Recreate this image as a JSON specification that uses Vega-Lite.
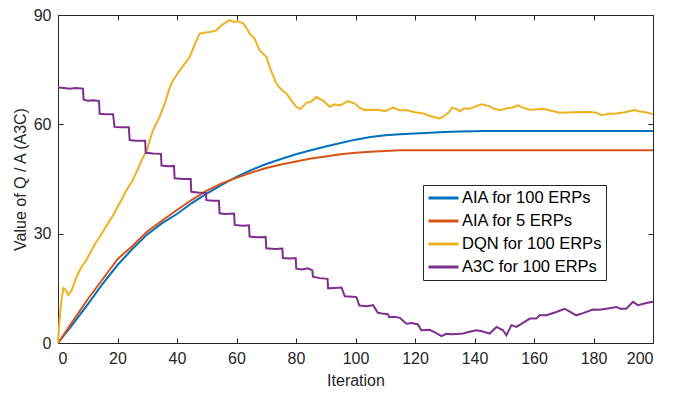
{
  "$schema": "https://vega.github.io/schema/vega-lite/v6.json",
  "width": 595,
  "height": 328,
  "autosize": {"type": "none"},
  "padding": {"left": 58, "top": 15, "right": 25, "bottom": 50},
  "background": "white",
  "config": {
    "font": "Liberation Sans",
    "view": {"stroke": null},
    "axis": {
      "grid": false,
      "domainColor": "#262626",
      "tickColor": "#262626",
      "labelColor": "#262626",
      "titleColor": "#262626",
      "labelFontSize": 16,
      "titleFontSize": 16,
      "titleFontWeight": "normal",
      "tickSize": -5,
      "labelPadding": 12
    }
  },
  "datasets": {
    "d": [
      {"s": "AIA for 100 ERPs", "x": 0, "y": 0},
      {"s": "AIA for 100 ERPs", "x": 5, "y": 5.2},
      {"s": "AIA for 100 ERPs", "x": 10, "y": 10.6},
      {"s": "AIA for 100 ERPs", "x": 15, "y": 16.2},
      {"s": "AIA for 100 ERPs", "x": 20, "y": 21.4},
      {"s": "AIA for 100 ERPs", "x": 25, "y": 25.8},
      {"s": "AIA for 100 ERPs", "x": 30, "y": 29.8},
      {"s": "AIA for 100 ERPs", "x": 35, "y": 32.9},
      {"s": "AIA for 100 ERPs", "x": 40, "y": 35.4},
      {"s": "AIA for 100 ERPs", "x": 45, "y": 38.4},
      {"s": "AIA for 100 ERPs", "x": 50, "y": 41},
      {"s": "AIA for 100 ERPs", "x": 55, "y": 43.4},
      {"s": "AIA for 100 ERPs", "x": 60, "y": 45.6},
      {"s": "AIA for 100 ERPs", "x": 65, "y": 47.5},
      {"s": "AIA for 100 ERPs", "x": 70, "y": 49.1},
      {"s": "AIA for 100 ERPs", "x": 75, "y": 50.5},
      {"s": "AIA for 100 ERPs", "x": 80, "y": 51.8},
      {"s": "AIA for 100 ERPs", "x": 85, "y": 52.9},
      {"s": "AIA for 100 ERPs", "x": 90, "y": 53.9},
      {"s": "AIA for 100 ERPs", "x": 95, "y": 54.9},
      {"s": "AIA for 100 ERPs", "x": 100, "y": 55.8},
      {"s": "AIA for 100 ERPs", "x": 105, "y": 56.5},
      {"s": "AIA for 100 ERPs", "x": 110, "y": 57},
      {"s": "AIA for 100 ERPs", "x": 115, "y": 57.3},
      {"s": "AIA for 100 ERPs", "x": 120, "y": 57.5},
      {"s": "AIA for 100 ERPs", "x": 125, "y": 57.7},
      {"s": "AIA for 100 ERPs", "x": 130, "y": 57.9},
      {"s": "AIA for 100 ERPs", "x": 135, "y": 58},
      {"s": "AIA for 100 ERPs", "x": 140, "y": 58.1},
      {"s": "AIA for 100 ERPs", "x": 143, "y": 58.2},
      {"s": "AIA for 100 ERPs", "x": 200, "y": 58.2},
      {"s": "AIA for 5 ERPs", "x": 0, "y": 0},
      {"s": "AIA for 5 ERPs", "x": 5, "y": 6},
      {"s": "AIA for 5 ERPs", "x": 10, "y": 12},
      {"s": "AIA for 5 ERPs", "x": 15, "y": 17.5},
      {"s": "AIA for 5 ERPs", "x": 20, "y": 23},
      {"s": "AIA for 5 ERPs", "x": 25, "y": 26.6},
      {"s": "AIA for 5 ERPs", "x": 30, "y": 30.6},
      {"s": "AIA for 5 ERPs", "x": 35, "y": 33.6},
      {"s": "AIA for 5 ERPs", "x": 40, "y": 36.5},
      {"s": "AIA for 5 ERPs", "x": 45, "y": 39.3},
      {"s": "AIA for 5 ERPs", "x": 50, "y": 41.8},
      {"s": "AIA for 5 ERPs", "x": 55, "y": 43.8},
      {"s": "AIA for 5 ERPs", "x": 60, "y": 45.3},
      {"s": "AIA for 5 ERPs", "x": 65, "y": 46.8},
      {"s": "AIA for 5 ERPs", "x": 70, "y": 48},
      {"s": "AIA for 5 ERPs", "x": 75, "y": 49},
      {"s": "AIA for 5 ERPs", "x": 80, "y": 49.8},
      {"s": "AIA for 5 ERPs", "x": 85, "y": 50.6},
      {"s": "AIA for 5 ERPs", "x": 90, "y": 51.2},
      {"s": "AIA for 5 ERPs", "x": 95, "y": 51.8},
      {"s": "AIA for 5 ERPs", "x": 100, "y": 52.2},
      {"s": "AIA for 5 ERPs", "x": 105, "y": 52.5},
      {"s": "AIA for 5 ERPs", "x": 110, "y": 52.7},
      {"s": "AIA for 5 ERPs", "x": 115, "y": 52.9},
      {"s": "AIA for 5 ERPs", "x": 200, "y": 52.9},
      {"s": "DQN for 100 ERPs", "x": 0, "y": 0},
      {"s": "DQN for 100 ERPs", "x": 0.3, "y": 4},
      {"s": "DQN for 100 ERPs", "x": 0.7, "y": 8},
      {"s": "DQN for 100 ERPs", "x": 1.2, "y": 12},
      {"s": "DQN for 100 ERPs", "x": 1.8, "y": 15},
      {"s": "DQN for 100 ERPs", "x": 2.5, "y": 14.6},
      {"s": "DQN for 100 ERPs", "x": 3.4, "y": 13.2},
      {"s": "DQN for 100 ERPs", "x": 4.5, "y": 14.3},
      {"s": "DQN for 100 ERPs", "x": 5.5, "y": 16.5},
      {"s": "DQN for 100 ERPs", "x": 6.7, "y": 19},
      {"s": "DQN for 100 ERPs", "x": 8, "y": 21},
      {"s": "DQN for 100 ERPs", "x": 9.5, "y": 22.7},
      {"s": "DQN for 100 ERPs", "x": 11, "y": 25},
      {"s": "DQN for 100 ERPs", "x": 12.5, "y": 27.3},
      {"s": "DQN for 100 ERPs", "x": 14, "y": 29.1},
      {"s": "DQN for 100 ERPs", "x": 16, "y": 31.8},
      {"s": "DQN for 100 ERPs", "x": 18.5, "y": 35},
      {"s": "DQN for 100 ERPs", "x": 20, "y": 37.3},
      {"s": "DQN for 100 ERPs", "x": 21.5, "y": 39.5},
      {"s": "DQN for 100 ERPs", "x": 23, "y": 41.9},
      {"s": "DQN for 100 ERPs", "x": 25, "y": 44.5},
      {"s": "DQN for 100 ERPs", "x": 27, "y": 48},
      {"s": "DQN for 100 ERPs", "x": 28.6, "y": 51},
      {"s": "DQN for 100 ERPs", "x": 30, "y": 53},
      {"s": "DQN for 100 ERPs", "x": 30.8, "y": 55.6},
      {"s": "DQN for 100 ERPs", "x": 32, "y": 58.5},
      {"s": "DQN for 100 ERPs", "x": 34.2, "y": 62.1},
      {"s": "DQN for 100 ERPs", "x": 36, "y": 66},
      {"s": "DQN for 100 ERPs", "x": 37.5, "y": 70},
      {"s": "DQN for 100 ERPs", "x": 38.7, "y": 72.1},
      {"s": "DQN for 100 ERPs", "x": 40.9, "y": 74.8},
      {"s": "DQN for 100 ERPs", "x": 42.5, "y": 76.5},
      {"s": "DQN for 100 ERPs", "x": 44.3, "y": 78.5},
      {"s": "DQN for 100 ERPs", "x": 46, "y": 82},
      {"s": "DQN for 100 ERPs", "x": 47.6, "y": 84.9},
      {"s": "DQN for 100 ERPs", "x": 49, "y": 85.1},
      {"s": "DQN for 100 ERPs", "x": 50.4, "y": 85.3},
      {"s": "DQN for 100 ERPs", "x": 52, "y": 85.5},
      {"s": "DQN for 100 ERPs", "x": 53.2, "y": 85.8},
      {"s": "DQN for 100 ERPs", "x": 55, "y": 87.2},
      {"s": "DQN for 100 ERPs", "x": 56.5, "y": 88},
      {"s": "DQN for 100 ERPs", "x": 57.7, "y": 88.6},
      {"s": "DQN for 100 ERPs", "x": 59, "y": 88.1},
      {"s": "DQN for 100 ERPs", "x": 60.5, "y": 88.3},
      {"s": "DQN for 100 ERPs", "x": 62.2, "y": 87.7},
      {"s": "DQN for 100 ERPs", "x": 63.5, "y": 86.3},
      {"s": "DQN for 100 ERPs", "x": 64.4, "y": 84.9},
      {"s": "DQN for 100 ERPs", "x": 66, "y": 83.6},
      {"s": "DQN for 100 ERPs", "x": 67.8, "y": 80.3},
      {"s": "DQN for 100 ERPs", "x": 70, "y": 78.5},
      {"s": "DQN for 100 ERPs", "x": 71.5, "y": 75},
      {"s": "DQN for 100 ERPs", "x": 73.4, "y": 71.2},
      {"s": "DQN for 100 ERPs", "x": 75, "y": 69.6},
      {"s": "DQN for 100 ERPs", "x": 76.8, "y": 68.4},
      {"s": "DQN for 100 ERPs", "x": 78.5, "y": 66.5},
      {"s": "DQN for 100 ERPs", "x": 80.1, "y": 64.8},
      {"s": "DQN for 100 ERPs", "x": 81.5, "y": 64.2},
      {"s": "DQN for 100 ERPs", "x": 83.5, "y": 65.9},
      {"s": "DQN for 100 ERPs", "x": 85, "y": 66.2},
      {"s": "DQN for 100 ERPs", "x": 86.8, "y": 67.5},
      {"s": "DQN for 100 ERPs", "x": 89, "y": 66.6},
      {"s": "DQN for 100 ERPs", "x": 91.3, "y": 64.8},
      {"s": "DQN for 100 ERPs", "x": 93, "y": 65.5},
      {"s": "DQN for 100 ERPs", "x": 94.7, "y": 65.2},
      {"s": "DQN for 100 ERPs", "x": 96, "y": 65.7},
      {"s": "DQN for 100 ERPs", "x": 97.5, "y": 66.4},
      {"s": "DQN for 100 ERPs", "x": 99.7, "y": 65.7},
      {"s": "DQN for 100 ERPs", "x": 101.5, "y": 64.5},
      {"s": "DQN for 100 ERPs", "x": 103.1, "y": 63.9},
      {"s": "DQN for 100 ERPs", "x": 105.5, "y": 64},
      {"s": "DQN for 100 ERPs", "x": 108.1, "y": 63.9},
      {"s": "DQN for 100 ERPs", "x": 110, "y": 63.6},
      {"s": "DQN for 100 ERPs", "x": 112.6, "y": 64.6},
      {"s": "DQN for 100 ERPs", "x": 115, "y": 63.8},
      {"s": "DQN for 100 ERPs", "x": 117.1, "y": 63.9},
      {"s": "DQN for 100 ERPs", "x": 120, "y": 63.3},
      {"s": "DQN for 100 ERPs", "x": 122.7, "y": 63},
      {"s": "DQN for 100 ERPs", "x": 125, "y": 62.3},
      {"s": "DQN for 100 ERPs", "x": 128.3, "y": 61.6},
      {"s": "DQN for 100 ERPs", "x": 130, "y": 62.4},
      {"s": "DQN for 100 ERPs", "x": 131.5, "y": 63.4},
      {"s": "DQN for 100 ERPs", "x": 132.5, "y": 64.6},
      {"s": "DQN for 100 ERPs", "x": 134, "y": 64.2},
      {"s": "DQN for 100 ERPs", "x": 135, "y": 63.6},
      {"s": "DQN for 100 ERPs", "x": 136.5, "y": 64.4},
      {"s": "DQN for 100 ERPs", "x": 138.4, "y": 64.3},
      {"s": "DQN for 100 ERPs", "x": 140, "y": 64.8},
      {"s": "DQN for 100 ERPs", "x": 142.3, "y": 65.5},
      {"s": "DQN for 100 ERPs", "x": 145, "y": 65},
      {"s": "DQN for 100 ERPs", "x": 146.5, "y": 64.3},
      {"s": "DQN for 100 ERPs", "x": 148.5, "y": 63.9},
      {"s": "DQN for 100 ERPs", "x": 151, "y": 64.4},
      {"s": "DQN for 100 ERPs", "x": 153, "y": 64.7},
      {"s": "DQN for 100 ERPs", "x": 154.6, "y": 65.2},
      {"s": "DQN for 100 ERPs", "x": 156.5, "y": 64.5},
      {"s": "DQN for 100 ERPs", "x": 158.6, "y": 64},
      {"s": "DQN for 100 ERPs", "x": 160.5, "y": 64.1},
      {"s": "DQN for 100 ERPs", "x": 163, "y": 64.3},
      {"s": "DQN for 100 ERPs", "x": 165.5, "y": 63.8},
      {"s": "DQN for 100 ERPs", "x": 168.6, "y": 63.2},
      {"s": "DQN for 100 ERPs", "x": 173, "y": 63.3},
      {"s": "DQN for 100 ERPs", "x": 178.7, "y": 63.4},
      {"s": "DQN for 100 ERPs", "x": 181, "y": 63.2},
      {"s": "DQN for 100 ERPs", "x": 182.7, "y": 62.5},
      {"s": "DQN for 100 ERPs", "x": 185, "y": 62.9},
      {"s": "DQN for 100 ERPs", "x": 187.7, "y": 63},
      {"s": "DQN for 100 ERPs", "x": 190.5, "y": 63.3},
      {"s": "DQN for 100 ERPs", "x": 193.8, "y": 63.9},
      {"s": "DQN for 100 ERPs", "x": 195.5, "y": 63.5},
      {"s": "DQN for 100 ERPs", "x": 197.2, "y": 63.4},
      {"s": "DQN for 100 ERPs", "x": 200, "y": 62.8},
      {"s": "A3C for 100 ERPs", "x": 0, "y": 70.1},
      {"s": "A3C for 100 ERPs", "x": 2, "y": 70},
      {"s": "A3C for 100 ERPs", "x": 4, "y": 69.8},
      {"s": "A3C for 100 ERPs", "x": 6, "y": 70},
      {"s": "A3C for 100 ERPs", "x": 8.4, "y": 69.8},
      {"s": "A3C for 100 ERPs", "x": 8.6, "y": 66.8},
      {"s": "A3C for 100 ERPs", "x": 10, "y": 66.5},
      {"s": "A3C for 100 ERPs", "x": 12, "y": 66.6},
      {"s": "A3C for 100 ERPs", "x": 13.8, "y": 66.4},
      {"s": "A3C for 100 ERPs", "x": 14, "y": 62.9},
      {"s": "A3C for 100 ERPs", "x": 16, "y": 62.8},
      {"s": "A3C for 100 ERPs", "x": 18.5, "y": 62.8},
      {"s": "A3C for 100 ERPs", "x": 19, "y": 59.3},
      {"s": "A3C for 100 ERPs", "x": 21, "y": 59.2},
      {"s": "A3C for 100 ERPs", "x": 23.8, "y": 59.2},
      {"s": "A3C for 100 ERPs", "x": 24.1, "y": 55.7},
      {"s": "A3C for 100 ERPs", "x": 26, "y": 55.5},
      {"s": "A3C for 100 ERPs", "x": 29.3, "y": 55.5},
      {"s": "A3C for 100 ERPs", "x": 29.5, "y": 52.2},
      {"s": "A3C for 100 ERPs", "x": 32, "y": 52},
      {"s": "A3C for 100 ERPs", "x": 34.6, "y": 51.9},
      {"s": "A3C for 100 ERPs", "x": 34.8, "y": 48.7},
      {"s": "A3C for 100 ERPs", "x": 37, "y": 48.5},
      {"s": "A3C for 100 ERPs", "x": 39, "y": 48.6},
      {"s": "A3C for 100 ERPs", "x": 39.2, "y": 45.2},
      {"s": "A3C for 100 ERPs", "x": 42, "y": 45},
      {"s": "A3C for 100 ERPs", "x": 44.6, "y": 45},
      {"s": "A3C for 100 ERPs", "x": 44.8, "y": 41.5},
      {"s": "A3C for 100 ERPs", "x": 47, "y": 41.3},
      {"s": "A3C for 100 ERPs", "x": 49.7, "y": 41.2},
      {"s": "A3C for 100 ERPs", "x": 49.9, "y": 39.2},
      {"s": "A3C for 100 ERPs", "x": 52, "y": 39},
      {"s": "A3C for 100 ERPs", "x": 54.1, "y": 39},
      {"s": "A3C for 100 ERPs", "x": 54.3, "y": 35.6},
      {"s": "A3C for 100 ERPs", "x": 56, "y": 35.4},
      {"s": "A3C for 100 ERPs", "x": 59.2, "y": 35.5},
      {"s": "A3C for 100 ERPs", "x": 59.4, "y": 32.4},
      {"s": "A3C for 100 ERPs", "x": 62, "y": 32.2},
      {"s": "A3C for 100 ERPs", "x": 64.2, "y": 32.3},
      {"s": "A3C for 100 ERPs", "x": 64.4, "y": 29.2},
      {"s": "A3C for 100 ERPs", "x": 67, "y": 29},
      {"s": "A3C for 100 ERPs", "x": 69.8, "y": 29.1},
      {"s": "A3C for 100 ERPs", "x": 70, "y": 26},
      {"s": "A3C for 100 ERPs", "x": 73, "y": 25.8},
      {"s": "A3C for 100 ERPs", "x": 75.4, "y": 25.9},
      {"s": "A3C for 100 ERPs", "x": 75.6, "y": 23.3},
      {"s": "A3C for 100 ERPs", "x": 78, "y": 23.2},
      {"s": "A3C for 100 ERPs", "x": 79.9, "y": 23.3},
      {"s": "A3C for 100 ERPs", "x": 80.1, "y": 20.4},
      {"s": "A3C for 100 ERPs", "x": 82, "y": 20.2},
      {"s": "A3C for 100 ERPs", "x": 84, "y": 20.5},
      {"s": "A3C for 100 ERPs", "x": 85.5, "y": 19.9},
      {"s": "A3C for 100 ERPs", "x": 85.7, "y": 18.2},
      {"s": "A3C for 100 ERPs", "x": 88, "y": 17.8},
      {"s": "A3C for 100 ERPs", "x": 90.6, "y": 17.6},
      {"s": "A3C for 100 ERPs", "x": 90.8, "y": 15},
      {"s": "A3C for 100 ERPs", "x": 93, "y": 15.1},
      {"s": "A3C for 100 ERPs", "x": 95.3, "y": 15.2},
      {"s": "A3C for 100 ERPs", "x": 96.4, "y": 12.8},
      {"s": "A3C for 100 ERPs", "x": 99, "y": 12.7},
      {"s": "A3C for 100 ERPs", "x": 100.3, "y": 12.6},
      {"s": "A3C for 100 ERPs", "x": 101.3, "y": 10.3},
      {"s": "A3C for 100 ERPs", "x": 104, "y": 10.1},
      {"s": "A3C for 100 ERPs", "x": 105.9, "y": 10.4},
      {"s": "A3C for 100 ERPs", "x": 107.5, "y": 8.3},
      {"s": "A3C for 100 ERPs", "x": 109, "y": 8.1},
      {"s": "A3C for 100 ERPs", "x": 110.9, "y": 7.9},
      {"s": "A3C for 100 ERPs", "x": 111.3, "y": 7.1},
      {"s": "A3C for 100 ERPs", "x": 113, "y": 7.2},
      {"s": "A3C for 100 ERPs", "x": 114.9, "y": 6.9},
      {"s": "A3C for 100 ERPs", "x": 117.1, "y": 5.3},
      {"s": "A3C for 100 ERPs", "x": 119, "y": 5.5},
      {"s": "A3C for 100 ERPs", "x": 121, "y": 5.1},
      {"s": "A3C for 100 ERPs", "x": 122.1, "y": 3.5},
      {"s": "A3C for 100 ERPs", "x": 124.9, "y": 3.6},
      {"s": "A3C for 100 ERPs", "x": 127, "y": 2.8},
      {"s": "A3C for 100 ERPs", "x": 128.9, "y": 1.9},
      {"s": "A3C for 100 ERPs", "x": 130.5, "y": 2.5},
      {"s": "A3C for 100 ERPs", "x": 132.3, "y": 2.4},
      {"s": "A3C for 100 ERPs", "x": 134, "y": 2.5},
      {"s": "A3C for 100 ERPs", "x": 136.1, "y": 2.6},
      {"s": "A3C for 100 ERPs", "x": 138, "y": 3},
      {"s": "A3C for 100 ERPs", "x": 140.6, "y": 3.5},
      {"s": "A3C for 100 ERPs", "x": 142.5, "y": 3.2},
      {"s": "A3C for 100 ERPs", "x": 145.1, "y": 2.6},
      {"s": "A3C for 100 ERPs", "x": 147.4, "y": 4.4},
      {"s": "A3C for 100 ERPs", "x": 149.6, "y": 3.5},
      {"s": "A3C for 100 ERPs", "x": 150.7, "y": 2.1},
      {"s": "A3C for 100 ERPs", "x": 152.4, "y": 4.9},
      {"s": "A3C for 100 ERPs", "x": 154.1, "y": 4.4},
      {"s": "A3C for 100 ERPs", "x": 156.3, "y": 5.5},
      {"s": "A3C for 100 ERPs", "x": 158.6, "y": 6.7},
      {"s": "A3C for 100 ERPs", "x": 160.8, "y": 6.7},
      {"s": "A3C for 100 ERPs", "x": 161.9, "y": 7.6},
      {"s": "A3C for 100 ERPs", "x": 164.2, "y": 7.6},
      {"s": "A3C for 100 ERPs", "x": 167.5, "y": 8.5},
      {"s": "A3C for 100 ERPs", "x": 170.3, "y": 9.4},
      {"s": "A3C for 100 ERPs", "x": 172, "y": 8.6},
      {"s": "A3C for 100 ERPs", "x": 174.2, "y": 7.6},
      {"s": "A3C for 100 ERPs", "x": 176.5, "y": 8.2},
      {"s": "A3C for 100 ERPs", "x": 179.8, "y": 9.2},
      {"s": "A3C for 100 ERPs", "x": 182, "y": 9.1},
      {"s": "A3C for 100 ERPs", "x": 184.3, "y": 9.4},
      {"s": "A3C for 100 ERPs", "x": 187.7, "y": 9.9},
      {"s": "A3C for 100 ERPs", "x": 189, "y": 9.4},
      {"s": "A3C for 100 ERPs", "x": 191, "y": 9.4},
      {"s": "A3C for 100 ERPs", "x": 193.3, "y": 11.3},
      {"s": "A3C for 100 ERPs", "x": 194.9, "y": 10.4},
      {"s": "A3C for 100 ERPs", "x": 197.8, "y": 11},
      {"s": "A3C for 100 ERPs", "x": 200, "y": 11.3}
    ]
  },
  "data": {"name": "d"},
  "resolve": {"axis": {"x": "independent", "y": "independent"}},
  "layer": [
    {
      "mark": {"type": "line", "opacity": 0},
      "encoding": {
        "x": {"field": "x", "type": "quantitative", "scale": {"domain": [0, 200], "nice": false},
              "axis": {"orient": "top", "labels": false, "title": null, "values": [0,20,40,60,80,100,120,140,160,180,200]}},
        "y": {"field": "y", "type": "quantitative", "scale": {"domain": [0, 90], "nice": false},
              "axis": {"orient": "right", "labels": false, "title": null, "values": [0,30,60,90]}},
        "detail": {"field": "s"}
      }
    },
    {
      "mark": {"type": "line", "strokeWidth": 2, "interpolate": "linear"},
      "encoding": {
        "x": {"field": "x", "type": "quantitative", "scale": {"domain": [0, 200], "nice": false},
              "axis": {"orient": "bottom", "title": "Iteration", "titlePadding": 6, "values": [0,20,40,60,80,100,120,140,160,180,200]}},
        "y": {"field": "y", "type": "quantitative", "scale": {"domain": [0, 90], "nice": false},
              "axis": {"orient": "left", "title": "Value of Q / A (A3C)", "titlePadding": 5, "values": [0,30,60,90]}},
        "color": {
          "field": "s", "type": "nominal",
          "scale": {"domain": ["AIA for 100 ERPs", "AIA for 5 ERPs", "DQN for 100 ERPs", "A3C for 100 ERPs"],
                    "range": ["#0072BD", "#D95319", "#EDB120", "#7E2F8E"]},
          "legend": {
            "title": null, "orient": "none", "legendX": 365, "legendY": 170,
            "strokeColor": "#262626", "fillColor": "white", "padding": 4,
            "symbolType": "M-1,0H3", "symbolSize": 225, "symbolStrokeWidth": 3,
            "labelFontSize": 16.5, "labelColor": "#000000", "labelOffset": 17, "rowPadding": 5
          }
        }
      }
    }
  ]
}
